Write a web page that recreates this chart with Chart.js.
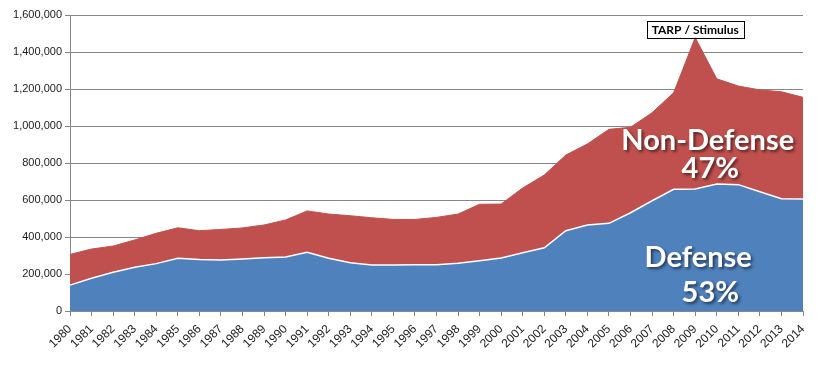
<!DOCTYPE html>
<html>
<head>
<meta charset="utf-8">
<script src="https://cdn.jsdelivr.net/npm/chart.js@4/dist/chart.umd.min.js"></script>
<style>
  html, body { margin: 0; padding: 0; background: #fff; }
  #wrap { width: 823px; height: 367px; }
</style>
</head>
<body>
<div id="wrap"><canvas id="spendingChart"></canvas></div>
<script>
const years = ["1980", "1981", "1982", "1983", "1984", "1985", "1986", "1987", "1988", "1989",
               "1990", "1991", "1992", "1993", "1994", "1995", "1996", "1997", "1998", "1999",
               "2000", "2001", "2002", "2003", "2004", "2005", "2006", "2007", "2008", "2009",
               "2010", "2011", "2012", "2013", "2014"];

const defense = [140000, 177000, 209000, 236000, 256000, 285000, 279000, 276000, 281000, 288000,
                 292000, 317000, 285000, 261000, 249000, 249000, 250000, 250000, 258000, 272000,
                 286000, 315000, 342000, 434000, 465000, 474000, 531000, 596000, 658000, 660000,
                 686000, 683000, 645000, 607000, 606000];

const nonDefense = [166000, 158000, 142000, 148000, 164000, 165000, 155000, 165000, 168000, 177000,
                    200000, 224000, 239000, 254000, 255000, 246000, 245000, 256000, 266000, 305000,
                    292000, 350000, 393000, 409000, 438000, 508000, 462000, 476000, 522000, 818000,
                    569000, 533000, 550000, 578000, 549000];

const yTicks = [0, 200000, 400000, 600000, 800000, 1000000, 1200000, 1400000, 1600000];

// big white labels inside the areas + the TARP callout
const areaLabels = [
    { text: "Non-Defense", at: 29.58, value: 870000 },
    { text: "47%",         at: 29.7,  value: 719000 },
    { text: "Defense",     at: 29.14, value: 238000 },
    { text: "53%",         at: 29.7,  value: 49000 }
];
const callout = { text: "TARP / Stimulus", index: 29 };

const labelPlugin = {
    id: "areaLabels",
    afterDatasetsDraw(chart) {
        const { ctx, scales: { x, y } } = chart;
        ctx.save();
        ctx.textAlign = "center";
        ctx.textBaseline = "alphabetic";
        ctx.fillStyle = "#fff";
        ctx.shadowColor = "rgba(0,0,0,0.55)";
        ctx.shadowOffsetX = 2;
        ctx.shadowOffsetY = 2;
        ctx.shadowBlur = 3;
        ctx.font = "bold 29px Lato";
        areaLabels.forEach(l => {
            ctx.fillText(l.text, x.getPixelForValue(l.at), y.getPixelForValue(l.value));
        });
        ctx.restore();

        // callout box sitting on the 2009 peak
        const i = callout.index;
        const cx = x.getPixelForValue(i);
        const bottom = y.getPixelForValue(defense[i] + nonDefense[i]);
        ctx.save();
        ctx.font = "bold 12px Lato";
        const w = 97;
        const h = 17;
        ctx.fillStyle = "#fff";
        ctx.fillRect(cx - w / 2, bottom - h, w, h);
        ctx.strokeStyle = "#000";
        ctx.lineWidth = 1;
        ctx.strokeRect(Math.round(cx - w / 2) + 0.5, Math.round(bottom - h) + 0.5, w, h);
        ctx.fillStyle = "#000";
        ctx.textAlign = "center";
        ctx.textBaseline = "middle";
        ctx.fillText(callout.text, cx, bottom - h / 2 + 1);
        ctx.restore();
    }
};

const ctx = document.getElementById("spendingChart").getContext("2d");

new Chart(ctx, {
    type: "line",
    data: {
        labels: years,
        datasets: [{
            label: "Defense",
            data: defense,
            backgroundColor: "#4F81BD",
            borderColor: "#ffffff",
            borderWidth: 1.5,
            fill: "origin",
            pointRadius: 0,
            tension: 0
        }, {
            label: "Non-Defense",
            data: nonDefense,
            backgroundColor: "#C0504D",
            borderColor: "#C0504D",
            borderWidth: 1,
            fill: "-1",
            pointRadius: 0,
            tension: 0
        }]
    },
    options: {
        animation: false,
        responsive: true,
        maintainAspectRatio: false,
        layout: { padding: { top: 15, right: 20, left: 10, bottom: 0 } },
        plugins: {
            legend: { display: false },
            tooltip: { enabled: false }
        },
        scales: {
            x: {
                offset: false,
                grid: { drawOnChartArea: false, drawTicks: true, tickLength: 5, color: "#868686" },
                border: { color: "#868686" },
                ticks: {
                    autoSkip: false,
                    minRotation: 45,
                    maxRotation: 45,
                    padding: 6,
                    color: "#222",
                    font: { family: "Liberation Sans", size: 12 }
                },
                afterFit(scale) { scale.height = 56; }
            },
            y: {
                stacked: true,
                min: 0,
                max: 1600000,
                afterBuildTicks(scale) { scale.ticks = yTicks.map(v => ({ value: v })); },
                grid: { color: "#868686", tickLength: 5 },
                border: { color: "#868686" },
                ticks: {
                    padding: 3,
                    color: "#222",
                    font: { family: "Liberation Sans", size: 11 },
                    callback: v => v.toLocaleString("en-US")
                },
                afterFit(scale) { scale.width = 60; }
            }
        }
    },
    plugins: [labelPlugin]
});
</script>
</body>
</html>
